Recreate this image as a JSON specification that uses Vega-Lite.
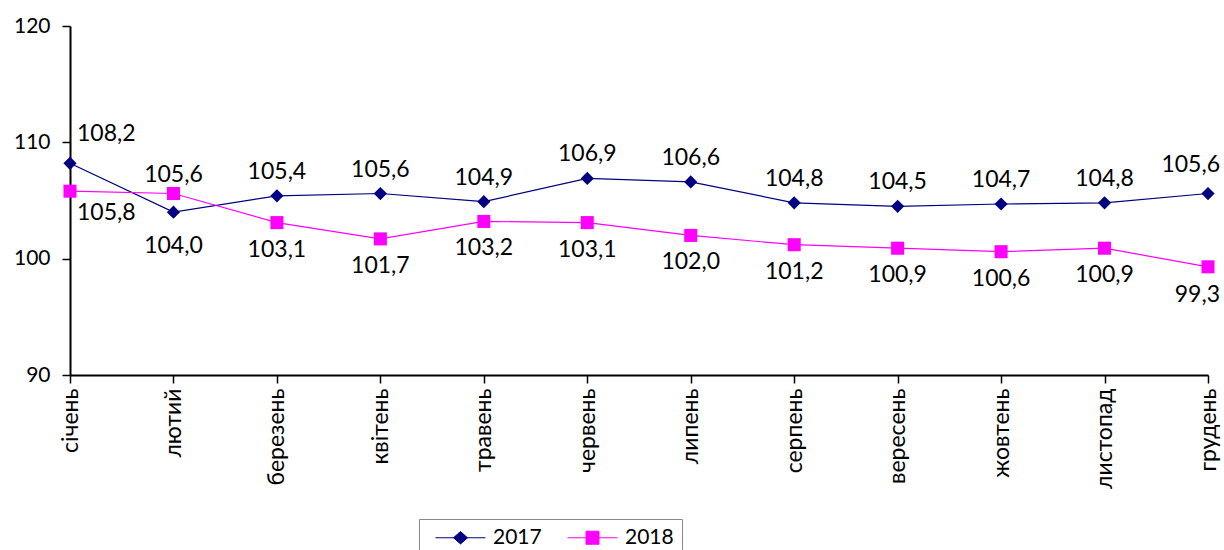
{
  "$schema": "https://vega.github.io/schema/vega-lite/v6.json",
  "width": 1138,
  "height": 349,
  "autosize": {"type": "none"},
  "padding": {"left": 70, "top": 26, "right": 16, "bottom": 175},
  "background": "white",
  "config": {
    "view": {"stroke": null},
    "font": "Lato",
    "locale": {"number": {"decimal": ",", "thousands": " ", "grouping": [3], "currency": ["", ""]}}
  },
  "data": {
    "values": [
      {"month": "січень", "year": "2017", "value": 108.2},
      {"month": "лютий", "year": "2017", "value": 104.0},
      {"month": "березень", "year": "2017", "value": 105.4},
      {"month": "квітень", "year": "2017", "value": 105.6},
      {"month": "травень", "year": "2017", "value": 104.9},
      {"month": "червень", "year": "2017", "value": 106.9},
      {"month": "липень", "year": "2017", "value": 106.6},
      {"month": "серпень", "year": "2017", "value": 104.8},
      {"month": "вересень", "year": "2017", "value": 104.5},
      {"month": "жовтень", "year": "2017", "value": 104.7},
      {"month": "листопад", "year": "2017", "value": 104.8},
      {"month": "грудень", "year": "2017", "value": 105.6},
      {"month": "січень", "year": "2018", "value": 105.8},
      {"month": "лютий", "year": "2018", "value": 105.6},
      {"month": "березень", "year": "2018", "value": 103.1},
      {"month": "квітень", "year": "2018", "value": 101.7},
      {"month": "травень", "year": "2018", "value": 103.2},
      {"month": "червень", "year": "2018", "value": 103.1},
      {"month": "липень", "year": "2018", "value": 102.0},
      {"month": "серпень", "year": "2018", "value": 101.2},
      {"month": "вересень", "year": "2018", "value": 100.9},
      {"month": "жовтень", "year": "2018", "value": 100.6},
      {"month": "листопад", "year": "2018", "value": 100.9},
      {"month": "грудень", "year": "2018", "value": 99.3}
    ]
  },
  "encoding": {
    "x": {
      "field": "month",
      "type": "ordinal",
      "sort": ["січень", "лютий", "березень", "квітень", "травень", "червень", "липень", "серпень", "вересень", "жовтень", "листопад", "грудень"],
      "scale": {"type": "point", "padding": 0},
      "axis": {
        "title": null,
        "labelAngle": -90,
        "labelFontSize": 23,
        "labelFont": "Lato",
        "labelColor": "black",
        "labelPadding": 5,
        "tickSize": 8,
        "tickWidth": 1.5,
        "tickColor": "black",
        "domainColor": "black",
        "domainWidth": 2,
        "grid": false
      }
    },
    "y": {
      "field": "value",
      "type": "quantitative",
      "scale": {"domain": [90, 120], "nice": false, "zero": false},
      "axis": {
        "title": null,
        "values": [90, 100, 110, 120],
        "labelFontSize": 21,
        "labelFont": "Lato",
        "labelColor": "black",
        "labelPadding": 12,
        "tickSize": 8,
        "tickWidth": 1.5,
        "tickColor": "black",
        "domainColor": "black",
        "domainWidth": 2,
        "grid": false
      }
    }
  },
  "layer": [
    {
      "mark": {"type": "line", "strokeWidth": 1.2},
      "encoding": {
        "color": {
          "field": "year",
          "type": "nominal",
          "scale": {"domain": ["2017", "2018"], "range": ["#000080", "#FF00FF"]},
          "legend": {
            "orient": "none",
            "legendX": 349,
            "legendY": 493,
            "direction": "horizontal",
            "title": null,
            "strokeColor": "#888888",
            "fillColor": "white",
            "padding": 8,
            "symbolSize": 400,
            "symbolStrokeWidth": 1,
            "labelOffset": 45,
            "columnPadding": 17,
            "labelFontSize": 21,
            "labelFont": "Lato",
            "labelColor": "black",
            "encode": {
              "symbols": {
                "update": {
                  "shape": {"signal": "datum.value == '2017' ? 'M-0.2,0H4.8M2.3,-0.62L3,0L2.3,0.62L1.6,0Z' : 'M-0.2,0H4.8M1.65,-0.65H2.95V0.65H1.65Z'"},
                  "fill": {"scale": "color", "field": "value"},
                  "stroke": {"scale": "color", "field": "value"},
                  "strokeWidth": {"value": 1},
                  "opacity": {"value": 1}
                }
              }
            }
          }
        }
      }
    },
    {
      "transform": [{"filter": "datum.year == '2017'"}],
      "mark": {"type": "point", "filled": true, "opacity": 1, "size": 175, "shape": "diamond", "color": "#000080"}
    },
    {
      "transform": [{"filter": "datum.year == '2018'"}],
      "mark": {"type": "point", "filled": true, "opacity": 1, "size": 170, "shape": "square", "color": "#FF00FF"}
    },
    {
      "transform": [{"filter": "datum.year == '2017' && indexof(['січень','лютий','грудень'], datum.month) < 0"}],
      "mark": {"type": "text", "fontSize": 23, "font": "Lato", "color": "black", "baseline": "alphabetic", "dy": -17},
      "encoding": {"text": {"field": "value", "type": "quantitative", "format": ".1f"}}
    },
    {
      "transform": [{"filter": "datum.year == '2017' && datum.month == 'лютий'"}],
      "mark": {"type": "text", "fontSize": 23, "font": "Lato", "color": "black", "baseline": "alphabetic", "dy": 41},
      "encoding": {"text": {"field": "value", "type": "quantitative", "format": ".1f"}}
    },
    {
      "transform": [{"filter": "datum.year == '2017' && datum.month == 'січень'"}],
      "mark": {"type": "text", "fontSize": 23, "font": "Lato", "color": "black", "baseline": "alphabetic", "align": "left", "dx": 7, "dy": -22},
      "encoding": {"text": {"field": "value", "type": "quantitative", "format": ".1f"}}
    },
    {
      "transform": [{"filter": "datum.year == '2017' && datum.month == 'грудень'"}],
      "mark": {"type": "text", "fontSize": 23, "font": "Lato", "color": "black", "baseline": "alphabetic", "align": "right", "dx": 12, "dy": -22},
      "encoding": {"text": {"field": "value", "type": "quantitative", "format": ".1f"}}
    },
    {
      "transform": [{"filter": "datum.year == '2018' && indexof(['січень','лютий','грудень'], datum.month) < 0"}],
      "mark": {"type": "text", "fontSize": 23, "font": "Lato", "color": "black", "baseline": "alphabetic", "dy": 34},
      "encoding": {"text": {"field": "value", "type": "quantitative", "format": ".1f"}}
    },
    {
      "transform": [{"filter": "datum.year == '2018' && datum.month == 'лютий'"}],
      "mark": {"type": "text", "fontSize": 23, "font": "Lato", "color": "black", "baseline": "alphabetic", "dy": -12},
      "encoding": {"text": {"field": "value", "type": "quantitative", "format": ".1f"}}
    },
    {
      "transform": [{"filter": "datum.year == '2018' && datum.month == 'січень'"}],
      "mark": {"type": "text", "fontSize": 23, "font": "Lato", "color": "black", "baseline": "alphabetic", "align": "left", "dx": 7, "dy": 29},
      "encoding": {"text": {"field": "value", "type": "quantitative", "format": ".1f"}}
    },
    {
      "transform": [{"filter": "datum.year == '2018' && datum.month == 'грудень'"}],
      "mark": {"type": "text", "fontSize": 23, "font": "Lato", "color": "black", "baseline": "alphabetic", "align": "right", "dx": 12, "dy": 35},
      "encoding": {"text": {"field": "value", "type": "quantitative", "format": ".1f"}}
    }
  ]
}
